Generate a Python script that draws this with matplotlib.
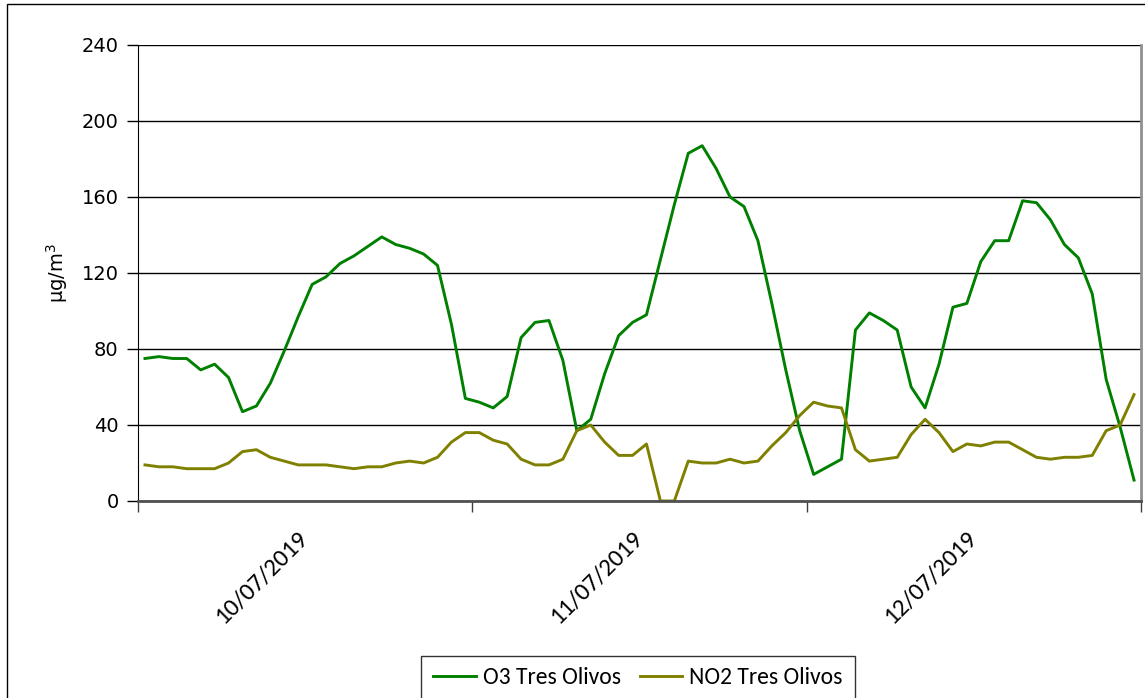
"""Ozono y NO2 - Tres Olivos, 10-12/07/2019"""

import matplotlib
matplotlib.use("Agg")
import matplotlib.pyplot as plt
from matplotlib import font_manager
from matplotlib.patches import Rectangle
import numpy as np

# datos horarios (72 h)
days = ["10/07/2019", "11/07/2019", "12/07/2019"]
hours_per_day = 24

o3 = [75, 76, 75, 75, 69, 72, 65, 47, 50, 62, 79, 97, 114, 118, 125, 129, 134, 139,
      135, 133, 130, 124, 93, 54, 52, 49, 55, 86, 94, 95, 74, 37, 43, 67, 87, 94,
      98, 127, 156, 183, 187, 175, 160, 155, 137, 104, 69, 37, 14, 18, 22, 90, 99, 95,
      90, 60, 49, 72, 102, 104, 126, 137, 137, 158, 157, 148, 135, 128, 109, 64, 39, 11]
no2 = [19, 18, 18, 17, 17, 17, 20, 26, 27, 23, 21, 19, 19, 19, 18, 17, 18, 18,
       20, 21, 20, 23, 31, 36, 36, 32, 30, 22, 19, 19, 22, 37, 40, 31, 24, 24,
       30, 0, 0, 21, 20, 20, 22, 20, 21, 29, 36, 45, 52, 50, 49, 27, 21, 22,
       23, 35, 43, 36, 26, 30, 29, 31, 31, 27, 23, 22, 23, 23, 24, 37, 40, 56]

series_names = ["O3 Tres Olivos", "NO2 Tres Olivos"]
COLORS = {"o3": "#008000", "no2": "#808000"}


def pick_font(names):
    have = {f.name for f in font_manager.fontManager.ttflist}
    for n in names:
        if n in have:
            return n
    return "DejaVu Sans"


NARROW = pick_font(["Liberation Sans Narrow", "Carlito", "Roboto Condensed", "Open Sans", "Liberation Sans"])

W, H = 1145, 698
fig = plt.figure(figsize=(W / 100, H / 100), dpi=100)
ax = fig.add_axes([138 / W, 1 - 501 / H, (1141 - 138) / W, (501 - 45) / H])

x = np.arange(len(o3))
ax.plot(x, o3, color=COLORS["o3"], lw=2.1, label=series_names[0])
ax.plot(x, no2, color=COLORS["no2"], lw=2.1, label=series_names[1])

n = len(o3)
ax.set_xlim(-0.5, n - 0.5)
ax.set_ylim(0, 240)
ax.set_yticks(np.arange(0, 241, 40))
ax.tick_params(axis="y", labelsize=14, length=8, width=1, color="black", pad=6)
for t in ax.get_yticklabels():
    t.set_fontfamily("DejaVu Sans")

# límites de día como ticks menores, etiquetas en el centro del día
bounds = np.arange(0, n + 1, hours_per_day) - 0.5
centers = np.arange(len(days)) * hours_per_day + hours_per_day / 2 - 0.5
ax.set_xticks(bounds, minor=True)
ax.set_xticks(centers)
ax.set_xticklabels(days, rotation=45, ha="right", va="center",
                   rotation_mode="anchor", fontsize=18, family=NARROW)
ax.tick_params(axis="x", which="major", length=0, pad=24)
ax.tick_params(axis="x", which="minor", length=8, width=1, color="#404040")

ax.grid(axis="y", color="black", lw=1)
ax.set_axisbelow(True)
ax.spines["top"].set_visible(False)
ax.spines["left"].set_color("black")
ax.spines["bottom"].set_color("#505050")
ax.spines["bottom"].set_linewidth(2)
ax.spines["right"].set_color("#909090")
ax.spines["right"].set_linewidth(2)

ax.set_ylabel(r"µg/m$^3$", fontsize=14)
ax.yaxis.set_label_coords(-(138 - 70) / (1141 - 138), 0.5)

leg = fig.legend(loc="lower center", bbox_to_anchor=(638 / W, -14 / H), ncol=2,
                 frameon=True, fancybox=False, edgecolor="black",
                 prop={"family": NARROW, "size": 17}, handlelength=1.8,
                 handletextpad=0.3, columnspacing=0.8, borderpad=0.5)
leg.get_frame().set_linewidth(1)

fig.patches.append(Rectangle((7 / W, -0.05), 1.1, 1 - 4 / H + 0.05, transform=fig.transFigure,
                             fill=False, edgecolor="black", lw=1))

fig.savefig("out.png", dpi=100)
